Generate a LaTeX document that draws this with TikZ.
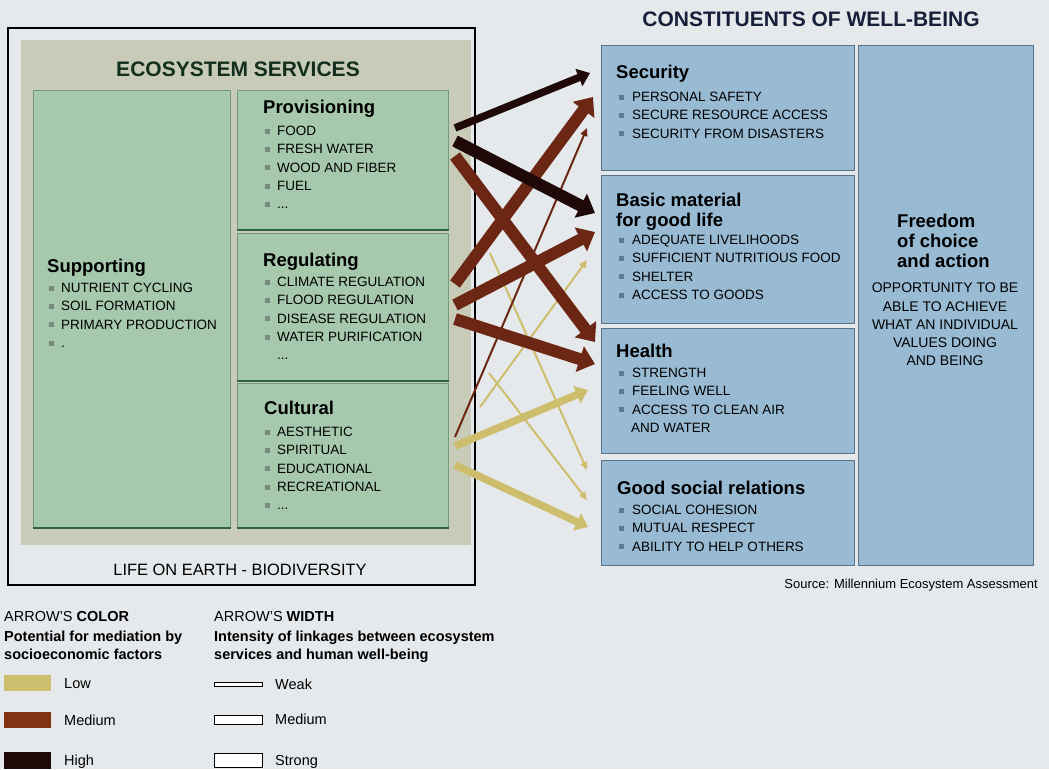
\documentclass[tikz,border=0pt]{standalone}
\usepackage{fontspec}
\setmainfont{Liberation Sans}
\usetikzlibrary{arrows.meta,positioning}

\definecolor{pagebg}{RGB}{230,233,236}
\definecolor{panelbg}{RGB}{200,203,184}
\definecolor{greenbox}{RGB}{166,201,174}
\definecolor{greenedge}{RGB}{45,100,62}
\definecolor{bluebox}{RGB}{152,186,211}
\definecolor{blueedge}{RGB}{88,116,140}
\definecolor{lowcol}{RGB}{205,190,110}
\definecolor{medcol}{RGB}{108,38,20}
\definecolor{highcol}{RGB}{30,8,8}
\definecolor{gbul}{RGB}{120,138,125}
\definecolor{bbul}{RGB}{92,122,152}
\definecolor{navy}{RGB}{22,32,58}
\definecolor{darkgreen}{RGB}{18,46,28}

\newcommand{\gb}{\textcolor{gbul}{\rule[2pt]{5pt}{5pt}}\hspace{7pt}}
\newcommand{\bb}{\textcolor{bbul}{\rule[2pt]{5pt}{5pt}}\hspace{8pt}}
\newcommand{\nb}{\hspace{12pt}}

\begin{document}
\begin{tikzpicture}[x=1pt,y=-1pt,
  gbox/.style={draw=greenedge!45!greenbox,line width=0.8pt,fill=greenbox,anchor=north west,inner sep=0},
  bbox/.style={draw=blueedge,line width=1.2pt,fill=bluebox,anchor=north west,inner sep=0},
  ttl/.style={font=\bfseries\fontsize{18.5}{19.5}\selectfont,anchor=base west,inner sep=0},
  itm/.style={font=\fontsize{13.5}{18.3}\selectfont,anchor=north west,align=left,inner sep=0},
  lgd/.style={font=\fontsize{14.5}{17.5}\selectfont,anchor=north west,align=left,inner sep=0},
  lgl/.style={font=\fontsize{14.5}{17.5}\selectfont,inner sep=0,text height=10.4pt,text depth=0pt},
  sw/.style={anchor=north west,inner sep=0,outer sep=0},
  wk/.style={line width=2pt,-{Triangle[length=8pt,width=7pt]}},
  md/.style={line width=7.5pt,-{Triangle[length=12pt,width=18pt]}},
  st/.style={line width=12pt,-{Triangle[length=16pt,width=26pt]}}]
  \fill[pagebg] (0,0) rectangle (1049,769);
  \useasboundingbox (0,0) rectangle (1049,769);

  % ecosystem services
  \draw[line width=1.3pt] (8,28) rectangle (475,585);
  \fill[panelbg] (21,40) rectangle (471,545);
  \node[font=\bfseries\fontsize{21}{24}\selectfont,text=darkgreen,anchor=base,inner sep=0] (eshead) at (238,76) {ECOSYSTEM SERVICES};
  \node[gbox,minimum width=197pt,minimum height=437pt] (supp) at (33,90) {};
  \node[gbox,minimum width=211pt,minimum height=139pt] (prov) at (237,90) {};
  \node[gbox,minimum width=211pt,minimum height=147pt] (regu) at (237,233) {};
  \node[gbox,minimum width=211pt,minimum height=144pt] (cult) at (237,383) {};
  \foreach \b in {supp,prov,regu,cult}
    \draw[greenedge,line width=2pt] (\b.south west) -- (\b.south east);

  \node[ttl] (provt) at (263,113) {Provisioning};
  \node[itm] (provi) at (265,126) {\gb FOOD\\ \gb FRESH WATER\\ \gb WOOD AND FIBER\\ \gb FUEL\\ \gb ...};
  \node[ttl] (regut) at (263,266) {Regulating};
  \node[itm] (regui) at (265,277) {\gb CLIMATE REGULATION\\ \gb FLOOD REGULATION\\ \gb DISEASE REGULATION\\ \gb WATER PURIFICATION\\ \nb ...};
  \node[ttl] (cultt) at (264,414) {Cultural};
  \node[itm] (culti) at (265,427) {\gb AESTHETIC\\ \gb SPIRITUAL\\ \gb EDUCATIONAL\\ \gb RECREATIONAL\\ \gb ...};
  \node[ttl] (suppt) at (47,272) {Supporting};
  \node[itm] (suppi) at (49,283) {\gb NUTRIENT CYCLING\\ \gb SOIL FORMATION\\ \gb PRIMARY PRODUCTION\\ \gb .};
  \node[font=\fontsize{16.4}{19}\selectfont,anchor=base,inner sep=0] (life) at (240,575) {LIFE ON EARTH - BIODIVERSITY};

  % constituents of well-being
  \node[font=\bfseries\fontsize{21}{24}\selectfont,text=navy,anchor=base,inner sep=0] (cwhead) at (811,26) {CONSTITUENTS OF WELL-BEING};
  \node[bbox,minimum width=253pt,minimum height=125pt] (secu) at (601,45) {};
  \node[bbox,minimum width=253pt,minimum height=148pt] (basic) at (601,175) {};
  \node[bbox,minimum width=253pt,minimum height=125pt] (health) at (601,328) {};
  \node[bbox,minimum width=253pt,minimum height=105pt] (social) at (601,460) {};
  \node[bbox,minimum width=175pt,minimum height=520pt] (free) at (858,45) {};

  \node[ttl] (secut) at (616,78) {Security};
  \node[itm] (secui) at (619,92) {\bb PERSONAL SAFETY\\ \bb SECURE RESOURCE ACCESS\\ \bb SECURITY FROM DISASTERS};
  \node[ttl,anchor=north west,align=left] (basict) at (616,193) {Basic material\\for good life};
  \node[itm] (basici) at (619,235) {\bb ADEQUATE LIVELIHOODS\\ \bb SUFFICIENT NUTRITIOUS FOOD\\ \bb SHELTER\\ \bb ACCESS TO GOODS};
  \node[ttl] (healtht) at (616,357) {Health};
  \node[itm] (healthi) at (619,368) {\bb STRENGTH\\ \bb FEELING WELL\\ \bb ACCESS TO CLEAN AIR\\ \nb AND WATER};
  \node[ttl] (socialt) at (617,494) {Good social relations};
  \node[itm] (sociali) at (619,505) {\bb SOCIAL COHESION\\ \bb MUTUAL RESPECT\\ \bb ABILITY TO HELP OTHERS};
  \node[ttl,font=\bfseries\fontsize{18.5}{20}\selectfont,anchor=north west,align=left] (freet) at (897,214) {Freedom\\of choice\\and action};
  \node[itm,font=\fontsize{14}{18.2}\selectfont,anchor=north,align=center] (freei) at (945,283) {OPPORTUNITY TO BE\\ABLE TO ACHIEVE\\WHAT AN INDIVIDUAL\\VALUES DOING\\AND BEING};
  \node[font=\fontsize{13}{15}\selectfont,anchor=base east,inner sep=0] (src) at (1038,588) {Source: Millennium Ecosystem Assessment};

  % arrow ends
  \coordinate (p1) at (455,128);
  \coordinate (p2) at (455,141);
  \coordinate (p3) at (455,156);
  \coordinate (p4) at (490,253);
  \coordinate (r1) at (455,284);
  \coordinate (r2) at (455,305);
  \coordinate (r3) at (455,319);
  \coordinate (r4) at (489,373);
  \coordinate (c1) at (455,437);
  \coordinate (c2) at (480,407);
  \coordinate (c3) at (455,446);
  \coordinate (c4) at (455,465);
  \coordinate (s1) at (590,73);
  \coordinate (s2) at (593,97);
  \coordinate (s3) at (587,128);
  \coordinate (b1) at (595,213);
  \coordinate (b2) at (595,232);
  \coordinate (b3) at (587,260);
  \coordinate (h1) at (595,342);
  \coordinate (h2) at (595,364);
  \coordinate (h3) at (588,390);
  \coordinate (g1) at (587,470);
  \coordinate (g2) at (587,500);
  \coordinate (g3) at (588,527);

  \draw[wk,lowcol] (p4) -- (g1);
  \draw[wk,lowcol] (r4) -- (g2);
  \draw[wk,lowcol] (c2) -- (b3);
  \draw[wk,medcol] (c1) -- (s3);
  \draw[md,lowcol] (c3) -- (h3);
  \draw[md,lowcol] (c4) -- (g3);
  \draw[st,medcol] (r3) -- (h2);
  \draw[st,medcol] (r2) -- (b2);
  \draw[st,medcol] (p3) -- (h1);
  \draw[st,medcol] (r1) -- (s2);
  \draw[st,highcol] (p2) -- (b1);
  \draw[md,highcol] (p1) -- (s1);

  % legend
  \node[lgd,anchor=base west] (colhd) at (4,621) {ARROW'S \textbf{COLOR}};
  \node[lgd,font=\bfseries\fontsize{14.5}{17.5}\selectfont] (coltx) at (4,631) {Potential for mediation by\\socioeconomic factors};
  \node[sw,fill=lowcol,minimum width=47pt,minimum height=16pt] (lowsw) at (4,675) {};
  \node[sw,fill=medcol!85!orange,minimum width=47pt,minimum height=16pt] (medsw) at (4,712) {};
  \node[sw,fill=highcol,minimum width=47pt,minimum height=17pt] (highsw) at (4,752) {};
  \node[lgl,right=13pt of lowsw] (lowtx) {Low};
  \node[lgl,right=13pt of medsw] (medtx) {Medium};
  \node[lgl,right=13pt of highsw] (hightx) {High};

  \node[lgd,anchor=base west] (widhd) at (214,621) {ARROW'S \textbf{WIDTH}};
  \node[lgd,font=\bfseries\fontsize{14.5}{17.5}\selectfont] (widtx) at (214,631) {Intensity of linkages between ecosystem\\services and human well-being};
  \node[sw,draw,fill=white,line width=0.8pt,minimum width=48pt,minimum height=4pt] (wkbar) at (214,682) {};
  \node[sw,draw,fill=white,line width=0.8pt,minimum width=48pt,minimum height=9pt] (mdbar) at (214,715) {};
  \node[sw,draw,fill=white,line width=0.8pt,minimum width=48pt,minimum height=14pt] (stbar) at (214,753) {};
  \node[lgl,right=13pt of wkbar] (wktx) {Weak};
  \node[lgl,right=13pt of mdbar] (mdtx) {Medium};
  \node[lgl,right=13pt of stbar] (sttx) {Strong};
\end{tikzpicture}
\end{document}
